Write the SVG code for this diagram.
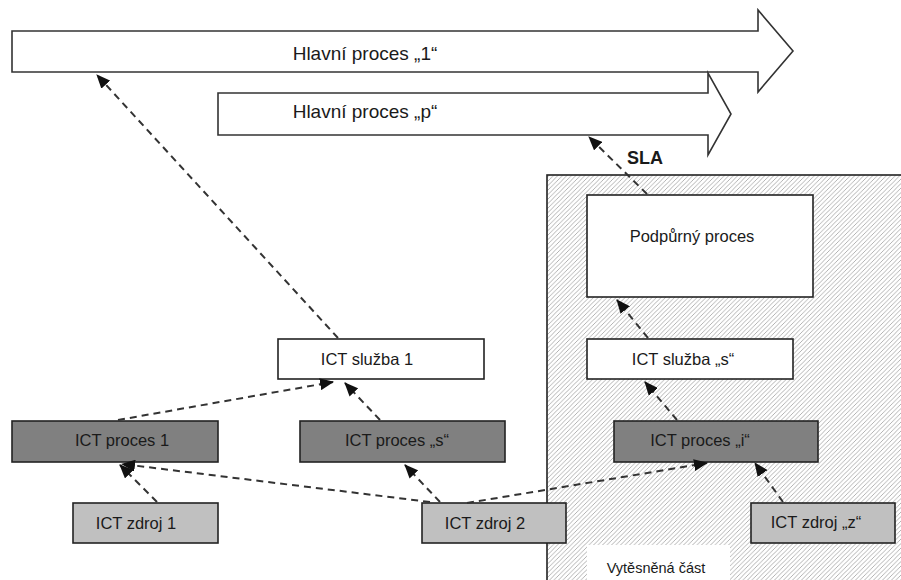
<svg xmlns="http://www.w3.org/2000/svg" width="901" height="580" viewBox="0 0 901 580">
<defs>
<pattern id="hatch" patternUnits="userSpaceOnUse" width="4.5" height="4.5">
<rect width="4.5" height="4.5" fill="#ffffff"/>
<path d="M-1,1 L1,-1 M0,4.5 L4.5,0 M3.5,5.5 L5.5,3.5" stroke="#9a9a9a" stroke-width="0.75"/>
</pattern>
<marker id="ah" markerUnits="userSpaceOnUse" markerWidth="14" markerHeight="12" viewBox="0 0 14 12" refX="13" refY="6" orient="auto">
<path d="M0,0 L14,6 L0,12 Z" fill="#111"/>
</marker>
</defs>
<style>
.bigarrow{fill:#fff;stroke:#333;stroke-width:1.6;stroke-linejoin:miter}
.box{stroke:#222;stroke-width:1.6}
.white{fill:#fff}
.dark{fill:#808080}
.light{fill:#c0c0c0}
.t{font-family:"Liberation Sans",Arial,sans-serif;font-size:16.5px;fill:#1a1a1a;text-anchor:middle}
.th{font-family:"Liberation Sans",Arial,sans-serif;font-size:19px;fill:#1a1a1a;text-anchor:middle}
.conn{fill:none;stroke:#333;stroke-width:2;stroke-dasharray:7 5;marker-end:url(#ah)}
</style>
<rect width="901" height="580" fill="#fff"/>
<g id="outsourced-area">
<rect x="547" y="175" width="400" height="450" fill="url(#hatch)" stroke="#222" stroke-width="1.6"/>
<rect x="587" y="545" width="143" height="40" fill="#fff"/>
<text x="656" y="573" class="t" style="font-size:14.5px">Vytěsněná část</text>
</g>
<g id="main-process-1">
<polygon class="bigarrow" points="12,31 758,31 758,10 793,51 758,92 758,72 12,72"/>
<text x="365" y="60" class="th">Hlavní proces „1“</text>
</g>
<g id="main-process-p">
<polygon class="bigarrow" points="218,93 708,93 708,73 731,114 708,155 708,135 218,135"/>
<text x="365" y="118" class="th">Hlavní proces „p“</text>
</g>
<g id="sla-label">
<text x="645" y="164" style="font-family:'Liberation Sans',Arial,sans-serif;font-size:18px;font-weight:bold;fill:#1a1a1a;text-anchor:middle">SLA</text>
</g>
<g id="podpurny-proces">
<rect x="587" y="195" width="226" height="102" class="box white"/>
<text x="692" y="242" class="t">Podpůrný proces</text>
</g>
<g id="ict-sluzba-1">
<rect x="278" y="339" width="206" height="40" class="box white"/>
<text x="367" y="365" class="t">ICT služba 1</text>
</g>
<g id="ict-sluzba-s">
<rect x="587" y="339" width="206" height="40" class="box white"/>
<text x="683" y="365" class="t">ICT služba „s“</text>
</g>
<g id="ict-proces-1">
<rect x="12" y="421" width="206" height="41" class="box dark"/>
<text x="122" y="446" class="t">ICT proces 1</text>
</g>
<g id="ict-proces-s">
<rect x="300" y="421" width="205" height="41" class="box dark"/>
<text x="397" y="446" class="t">ICT proces „s“</text>
</g>
<g id="ict-proces-i">
<rect x="614" y="421" width="204" height="41" class="box dark"/>
<text x="700" y="446" class="t">ICT proces „i“</text>
</g>
<g id="ict-zdroj-1">
<rect x="73" y="503" width="145" height="40" class="box light"/>
<text x="136" y="529" class="t">ICT zdroj 1</text>
</g>
<g id="ict-zdroj-2">
<rect x="422" y="503" width="144" height="40" class="box light"/>
<text x="485" y="529" class="t">ICT zdroj 2</text>
</g>
<g id="ict-zdroj-z">
<rect x="751" y="503" width="144" height="40" class="box light"/>
<text x="816" y="528" class="t">ICT zdroj „z“</text>
</g>
<g id="connectors">
<path class="conn" d="M338,338 L97,75"/>
<path class="conn" d="M647,194 L589,137"/>
<path class="conn" d="M648,338 L617,300"/>
<path class="conn" d="M118,420 L333,382"/>
<path class="conn" d="M380,420 L345,383"/>
<path class="conn" d="M157,502 L120,465"/>
<path class="conn" d="M430,502 L122,464"/>
<path class="conn" d="M440,502 L405,465"/>
<path class="conn" d="M467,503 L707,463"/>
<path class="conn" d="M677,420 L645,382"/>
<path class="conn" d="M783,502 L755,463"/>
</g>
</svg>
